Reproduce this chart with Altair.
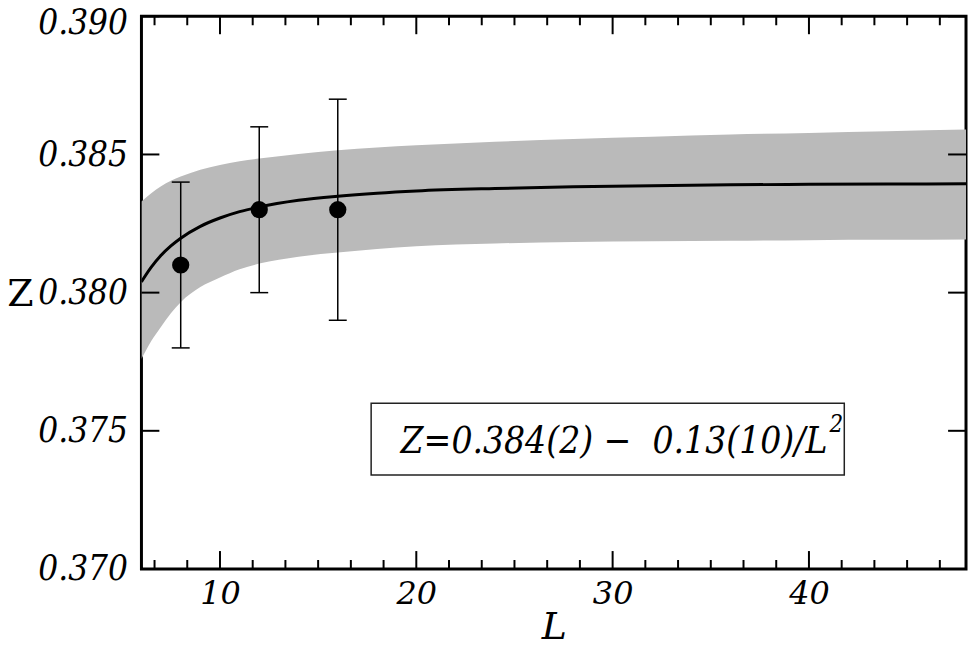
import altair as alt
import pandas as pd
import numpy as np

# ---- data ----
L_pts = [8, 12, 16]
Z_pts = [0.381, 0.383, 0.383]
Z_err_lo = [0.378, 0.380, 0.379]
Z_err_hi = [0.384, 0.386, 0.387]

L_fit = [6, 6.5, 7, 7.5, 8, 9, 10, 11, 12, 14, 16, 18, 20, 24, 28, 32, 36, 40, 44, 48]
Z_fit = [0.38039, 0.38092, 0.38135, 0.38169, 0.38197, 0.38240, 0.38270, 0.38293, 0.38310, 0.38334,
         0.38349, 0.38360, 0.38368, 0.38377, 0.38383, 0.38387, 0.38390, 0.38392, 0.38393, 0.38394]
Z_band_hi = [0.38330, 0.38360, 0.38385, 0.38405, 0.38420, 0.38445, 0.38462, 0.38475, 0.38485, 0.38502,
             0.38515, 0.38525, 0.38533, 0.38546, 0.38556, 0.38564, 0.38572, 0.38578, 0.38584, 0.38590]
Z_band_lo = [0.37760, 0.37825, 0.37877, 0.37925, 0.37965, 0.38020, 0.38055, 0.38085, 0.38105, 0.38130,
             0.38145, 0.38158, 0.38168, 0.38178, 0.38183, 0.38186, 0.38188, 0.38190, 0.38191, 0.38192]

x_major = [10, 20, 30, 40]
y_major = [0.370, 0.375, 0.380, 0.385, 0.390]
x_domain = [6, 48]
y_domain = [0.370, 0.390]

# annotation box (data coordinates) and its text
box_L = [17.7, 41.8]
box_Z = [0.3760, 0.3734]
formula_L = [19.2]
formula_Z = [0.37418]
formula_text = ["Z=0.384(2) \u2212 \u00a00.13(10)/L"]
sup_L = [41.05]
sup_Z = [0.37495]
sup_text = ["2"]

W, H = 828, 555
FONT_C = "DejaVu Serif Condensed"
FONT = "DejaVu Serif"

# minor x ticks (every 10/6 between majors)
x_minor = [v for v in np.round(np.arange(10 - 4 * 10 / 6, 48.01, 10 / 6), 4)
           if all(abs(v - m) > 1e-6 for m in x_major) and 6 < v < 48]

fit_df = pd.DataFrame({"L": L_fit, "Z": Z_fit, "lo": Z_band_lo, "hi": Z_band_hi})
pts_df = pd.DataFrame({"L": L_pts, "Z": Z_pts, "lo": Z_err_lo, "hi": Z_err_hi})

xs = alt.Scale(domain=x_domain, nice=False, zero=False)
ys = alt.Scale(domain=y_domain, nice=False, zero=False)

x_axis = alt.Axis(values=x_major, ticks=False, tickSize=0, domain=False, grid=False,
                  labelFont=FONT, labelFontStyle="italic", labelFontSize=32,
                  labelPadding=10, labelColor="black",
                  title="L", titleFont=FONT, titleFontStyle="italic", titleFontSize=38,
                  titleFontWeight="normal", titleColor="black",
                  titleBaseline="alphabetic", titleY=70)
y_axis = alt.Axis(values=y_major, ticks=False, tickSize=0, domain=False, grid=False,
                  labelFont=FONT_C, labelFontStyle="italic", labelFontSize=35,
                  labelPadding=14, labelColor="black", format=".3f",
                  labelBaseline="middle",
                  labelOffset={"condition": {"test": "datum.value > 0.3895", "value": 6}, "value": 0},
                  title="Z", titleFont=FONT, titleFontSize=38, titleFontWeight="normal",
                  titleColor="black", titleAngle=0, titleAlign="center",
                  titleBaseline="alphabetic", titleX=-122, titleY=290)

band = alt.Chart(fit_df).mark_area(color="#bababa", interpolate="monotone", clip=True).encode(
    x=alt.X("L:Q", scale=xs, axis=x_axis),
    y=alt.Y("lo:Q", scale=ys, axis=y_axis),
    y2="hi:Q",
)
curve = alt.Chart(fit_df).mark_line(color="black", strokeWidth=3, interpolate="monotone", clip=True).encode(
    x=alt.X("L:Q", scale=xs), y=alt.Y("Z:Q", scale=ys)
)
err = alt.Chart(pts_df).mark_rule(color="black", strokeWidth=1.5).encode(
    x=alt.X("L:Q", scale=xs), y=alt.Y("lo:Q", scale=ys), y2="hi:Q"
)
cap_hi = alt.Chart(pts_df).mark_tick(color="black", orient="horizontal", size=18, thickness=1.5, opacity=1).encode(
    x=alt.X("L:Q", scale=xs), y=alt.Y("hi:Q", scale=ys)
)
cap_lo = alt.Chart(pts_df).mark_tick(color="black", orient="horizontal", size=18, thickness=1.5, opacity=1).encode(
    x=alt.X("L:Q", scale=xs), y=alt.Y("lo:Q", scale=ys)
)
dots = alt.Chart(pts_df).mark_circle(color="black", size=300, opacity=1).encode(
    x=alt.X("L:Q", scale=xs), y=alt.Y("Z:Q", scale=ys)
)
box_df = pd.DataFrame({"x": [box_L[0]], "x2": [box_L[1]], "y": [box_Z[0]], "y2": [box_Z[1]]})
box = alt.Chart(box_df).mark_rect(fill="white", stroke="#222222", strokeWidth=1.5).encode(
    x=alt.X("x:Q", scale=xs), x2="x2:Q", y=alt.Y("y:Q", scale=ys), y2="y2:Q"
)
ftxt = alt.Chart(pd.DataFrame({"L": formula_L, "Z": formula_Z, "t": formula_text})).mark_text(
    font=FONT_C, fontStyle="italic", fontSize=37, align="left", baseline="alphabetic", color="black"
).encode(x=alt.X("L:Q", scale=xs), y=alt.Y("Z:Q", scale=ys), text="t:N")
stxt = alt.Chart(pd.DataFrame({"L": sup_L, "Z": sup_Z, "t": sup_text})).mark_text(
    font=FONT_C, fontStyle="italic", fontSize=24, align="left", baseline="alphabetic", color="black"
).encode(x=alt.X("L:Q", scale=xs), y=alt.Y("Z:Q", scale=ys), text="t:N")

# inward tick marks on all four sides
xmaj_df = pd.DataFrame({"v": x_major})
xmin_df = pd.DataFrame({"v": x_minor})
ymaj_df = pd.DataFrame({"v": y_major})

def xticks(df, length):
    bottom = alt.Chart(df).mark_rule(color="black", strokeWidth=2).encode(
        x=alt.X("v:Q", scale=xs), y=alt.value(H), y2=alt.value(H - length))
    top = alt.Chart(df).mark_rule(color="black", strokeWidth=2).encode(
        x=alt.X("v:Q", scale=xs), y=alt.value(0), y2=alt.value(length))
    return bottom + top

def yticks(df, length):
    left = alt.Chart(df).mark_rule(color="black", strokeWidth=2).encode(
        y=alt.Y("v:Q", scale=ys), x=alt.value(0), x2=alt.value(length))
    right = alt.Chart(df).mark_rule(color="black", strokeWidth=2).encode(
        y=alt.Y("v:Q", scale=ys), x=alt.value(W), x2=alt.value(W - length))
    return left + right

chart = alt.layer(
    band, curve, err, cap_hi, cap_lo, dots, box, ftxt, stxt,
    xticks(xmaj_df, 18), xticks(xmin_df, 9), yticks(ymaj_df, 18)
).properties(
    width=W, height=H,
    autosize=alt.AutoSizeParams(type="none"),
    padding={"left": 134, "top": 7, "right": 3, "bottom": 72},
    background="white",
).configure_view(stroke="black", strokeWidth=3)

chart.save("out.html", embed_options={"renderer": "svg", "actions": False})
